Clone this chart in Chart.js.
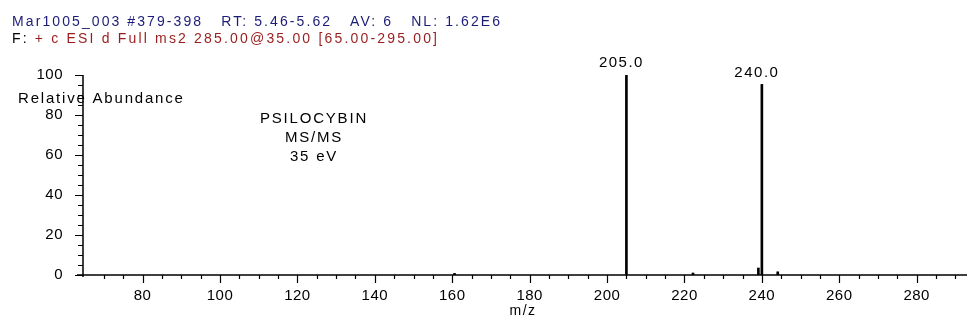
<!DOCTYPE html>
<html>
<head>
<meta charset="utf-8">
<title>Psilocybin MS/MS</title>
<script src="https://cdn.jsdelivr.net/npm/chart.js@4.4.1/dist/chart.umd.min.js"></script>
<style>
  html, body { margin: 0; padding: 0; background: #fff; }
  #wrap { position: relative; width: 967px; height: 324px; }
</style>
</head>
<body>
<div id="wrap"><canvas id="spectrum" width="967" height="324"></canvas></div>
<script>
// peak list: m/z and relative abundance (%)
const mzValues = [160.6, 205.0, 222.2, 239.1, 240.0, 244.1];
const abundance = [0.8, 100, 1.0, 3.5, 95.3, 1.6];
const labelledPeaks = ['205.0', '240.0'];

const xTicks = [80, 100, 120, 140, 160, 180, 200, 220, 240, 260, 280];
const yTicks = [0, 20, 40, 60, 80, 100];

// scan header lines as coloured pieces
const headerLine1 = [['Mar1005_003 #379-398   RT: 5.46-5.62   AV: 6   NL: 1.62E6', '#1c1c78']];
const headerLine2 = [['F: ', '#000'], ['+ c ESI d Full ms2 285.00@35.00 [65.00-295.00]', '#9a1c1c']];
const noteLines = ['PSILOCYBIN', 'MS/MS', '35 eV'];

const FONT = '"Liberation Sans", Arial, sans-serif';

function text(ctx, str, x, y, align, size, color, spacing) {
    ctx.save();
    ctx.font = size + 'px ' + FONT;
    ctx.fillStyle = color || '#000';
    ctx.textAlign = align;
    ctx.textBaseline = 'middle';
    ctx.letterSpacing = (spacing || 0) + 'px';
    ctx.fillText(str, x, y);
    ctx.restore();
}

// lay a line of coloured pieces out between x1 and x2 with even letter spacing
function fitLine(ctx, pieces, x1, x2, y, size) {
    ctx.save();
    ctx.font = size + 'px ' + FONT;
    const widths = pieces.map(p => ctx.measureText(p[0]).width);
    ctx.restore();
    const chars = pieces.reduce((n, p) => n + p[0].length, 0);
    const total = widths.reduce((a, b) => a + b, 0);
    const gap = (x2 - x1 - total) / (chars - 1);
    let x = x1;
    pieces.forEach(([s, color], i) => {
        text(ctx, s, x, y, 'left', size, color, gap);
        x += widths[i] + gap * s.length;
    });
}

// axes, ticks and text drawn against the chart's own scales
const spectrumDecor = {
    id: 'spectrumDecor',
    afterDatasetsDraw(chart) {
        const ctx = chart.ctx;
        const xs = chart.scales.x;
        const ys = chart.scales.y;
        const x0 = xs.left;
        const y0 = ys.getPixelForValue(0);

        ctx.save();
        ctx.strokeStyle = '#000';
        ctx.lineWidth = 1.5;
        ctx.beginPath();
        ctx.moveTo(x0, ys.getPixelForValue(100));
        ctx.lineTo(x0, y0 + 2);
        ctx.moveTo(x0 - 6, y0);
        ctx.lineTo(xs.right, y0);
        ctx.stroke();

        ctx.lineWidth = 1.2;
        ctx.beginPath();
        for (let v = 0; v <= 100; v += 5) {
            const py = Math.round(ys.getPixelForValue(v)) + 0.5;
            const len = v % 20 === 0 ? 8 : 5;
            ctx.moveTo(x0 - len, py);
            ctx.lineTo(x0, py);
        }
        for (let v = 70; v <= xs.max; v += 5) {
            const px = Math.round(xs.getPixelForValue(v)) + 0.5;
            const len = v % 20 === 0 ? 8 : 4;
            ctx.moveTo(px, y0);
            ctx.lineTo(px, y0 + len);
        }
        ctx.stroke();
        ctx.restore();

        yTicks.forEach(v => text(ctx, String(v), 63, ys.getPixelForValue(v), 'right', 15, '#000', 0.5));
        xTicks.forEach(v => text(ctx, String(v), xs.getPixelForValue(v), 296, 'center', 15, '#000', 0.5));
        text(ctx, 'm/z', 523, 311, 'center', 14, '#000', 1.5);
        text(ctx, 'Relative Abundance', 18, 99, 'left', 15, '#000', 1.8);

        labelledPeaks.forEach(lbl => {
            const i = mzValues.indexOf(parseFloat(lbl));
            text(ctx, lbl, xs.getPixelForValue(mzValues[i]) - 5, ys.getPixelForValue(abundance[i]) - 12, 'center', 15, '#000', 1.5);
        });

        noteLines.forEach((s, i) => text(ctx, s, 314, 119 + i * 19, 'center', 15, '#000', 1.8));

        fitLine(ctx, headerLine1, 12, 500, 22, 14);
        fitLine(ctx, headerLine2, 12, 437, 39, 14);
    }
};

new Chart(document.getElementById('spectrum'), {
    type: 'bar',
    data: {
        datasets: [{
            data: mzValues.map((mz, i) => ({ x: mz, y: abundance[i] })),
            backgroundColor: '#000',
            borderWidth: 0,
            barThickness: 2,
        }],
    },
    options: {
        responsive: false,
        animation: false,
        events: [],
        layout: { padding: { left: 83, right: 0, top: 75, bottom: 49 } },
        plugins: { legend: { display: false }, tooltip: { enabled: false } },
        scales: {
            x: { type: 'linear', min: 64.6, max: 293, offset: false, display: false },
            y: { min: 0, max: 100, display: false },
        },
    },
    plugins: [spectrumDecor],
});
</script>
</body>
</html>
